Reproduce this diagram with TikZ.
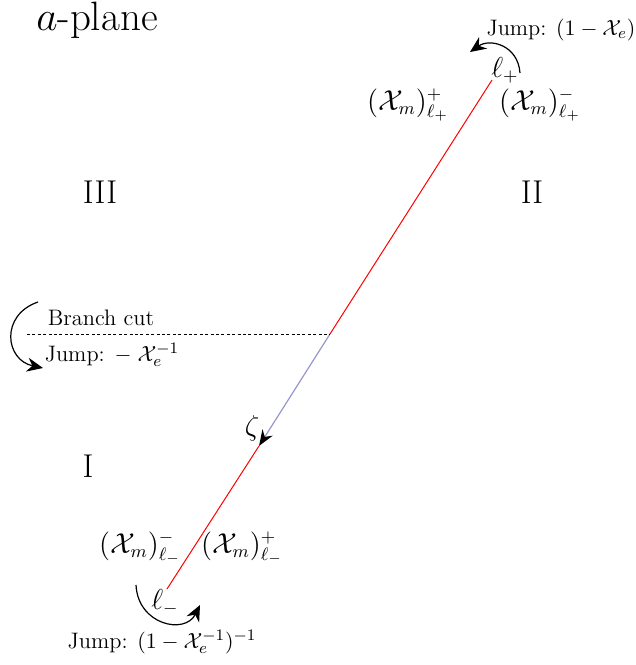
\documentclass[tikz,border=0pt]{standalone}
\usetikzlibrary{arrows.meta}
\definecolor{lav}{RGB}{150,150,205}
\begin{document}
\begin{tikzpicture}[x=0.5pt,y=-0.5pt,
  small/.style={font=\fontsize{11.2}{13}\selectfont,inner sep=1pt},
  mlab/.style={font=\fontsize{13.5}{15}\selectfont,inner sep=1pt},
  region/.style={font=\fontsize{16.5}{18}\selectfont},
  jumparc/.style={line width=0.6pt,-{Stealth[length=8pt,width=7pt]}}]
\useasboundingbox (0,0) rectangle (636,665);
\node[font=\fontsize{20.5}{23}\selectfont,inner sep=1pt] (title) at (97,20) {$a$-plane};
\coordinate (lp) at (492,80);
\coordinate (bc) at (330,334);
\coordinate (z) at (259,446);
\coordinate (lm) at (167,589);
\coordinate (bcl) at (27,334);
\draw[red,line width=0.5pt] (lp) -- (bc);
\draw[lav,line width=0.6pt,-{Stealth[length=8pt,width=6pt,black]}] (bc) -- (z);
\draw[red,line width=0.5pt] (z) -- (lm);
\draw[dashed,dash pattern=on 1.5pt off 1.2pt,line width=0.5pt] (bcl) -- (bc);
\node[small] (jtop) at (561,30) {Jump: $(1-\mathcal{X}_e)$};
\node[mlab] (lpl) at (505,70) {$\ell_+$};
\node[mlab] (xpp) at (408,105) {$(\mathcal{X}_m)^+_{\ell_+}$};
\node[mlab] (xpm) at (540,105) {$(\mathcal{X}_m)^-_{\ell_+}$};
\node[region] (r3) at (100,192) {III};
\node[region] (r2) at (532,192) {II};
\node[region] (r1) at (88,466) {I};
\node[small] (bct) at (101,318) {Branch cut};
\node[small] (jmid) at (112,355) {Jump: $-\;\mathcal{X}_e^{-1}$};
\node[mlab] (zl) at (252,428) {$\zeta$};
\node[mlab] (xmm) at (140,548) {$(\mathcal{X}_m)^-_{\ell_-}$};
\node[mlab] (xmp) at (242,548) {$(\mathcal{X}_m)^+_{\ell_-}$};
\node[mlab] (lml) at (165,602) {$\ell_-$};
\node[small] (jbot) at (162,642) {Jump: $(1-\mathcal{X}_e^{-1})^{-1}$};
\draw[jumparc] (520,73) .. controls (518,45) and (490,38) .. (470,52);
\draw[jumparc] (38,302) .. controls (0,315) and (5,360) .. (43,368);
\draw[jumparc] (136,585) .. controls (138,625) and (185,635) .. (200,605);
\end{tikzpicture}
\end{document}
